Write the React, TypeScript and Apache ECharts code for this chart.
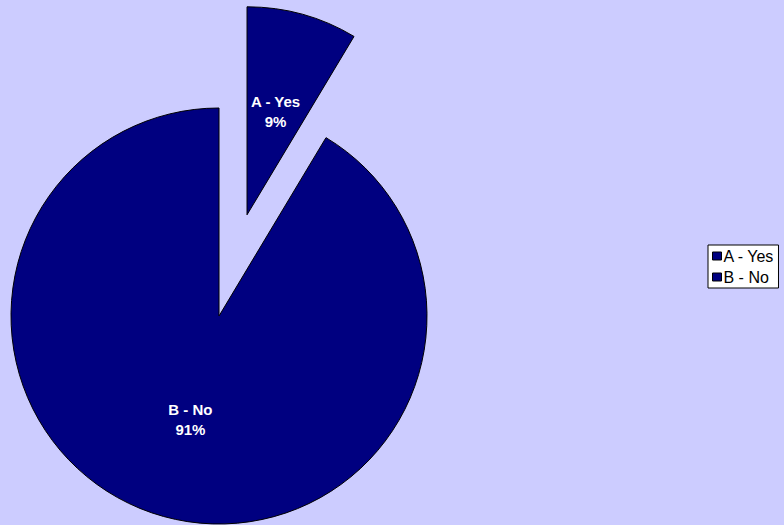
import React, { useEffect, useRef } from "react";
import * as echarts from "echarts";

const categories = ["A - Yes", "B - No"];
const values = [8.6, 91.4];
const exploded = [true, false];

export default function App() {
  const ref = useRef<HTMLDivElement>(null);
  useEffect(() => {
    if (!ref.current) return;
    const chart = echarts.init(ref.current, null, { renderer: "svg" });
    chart.setOption({
      animation: false,
      backgroundColor: "#CCCCFF",
      legend: {
        orient: "vertical",
        left: 708,
        top: 245,
        backgroundColor: "#FFFFFF",
        borderColor: "#000000",
        borderWidth: 1,
        borderRadius: 0,
        padding: [2, 4, 2, 4],
        itemWidth: 9,
        itemHeight: 8,
        itemGap: 3,
        icon: "rect",
        selectedMode: false,
        itemStyle: { borderColor: "#000000", borderWidth: 1 },
        textStyle: {
          fontFamily: "Liberation Sans, Arial",
          fontSize: 16,
          lineHeight: 18,
          color: "#000000",
          padding: [0, 0, 0, -3],
        },
        data: categories,
      },
      series: [
        {
          type: "pie",
          center: [219, 316],
          radius: [0, 208],
          startAngle: 90,
          clockwise: true,
          selectedMode: "multiple",
          selectedOffset: 105,
          avoidLabelOverlap: false,
          itemStyle: { color: "#000080", borderColor: "#000000", borderWidth: 1 },
          emphasis: { disabled: true },
          label: {
            show: true,
            position: "inside",
            formatter: (p: any) => `${p.name}\n${Math.round(p.percent)}%`,
            color: "#FFFFFF",
            fontFamily: "Liberation Sans, Arial",
            fontWeight: "bold",
            fontSize: 15,
            lineHeight: 20,
            textBorderWidth: 0,
          },
          labelLine: { show: false },
          data: categories.map((name, i) => ({ name, value: values[i], selected: exploded[i] })),
        },
      ],
    });
    return () => chart.dispose();
  }, []);
  return <div ref={ref} style={{ position: "fixed", left: 0, top: 0, width: 784, height: 525 }} />;
}
